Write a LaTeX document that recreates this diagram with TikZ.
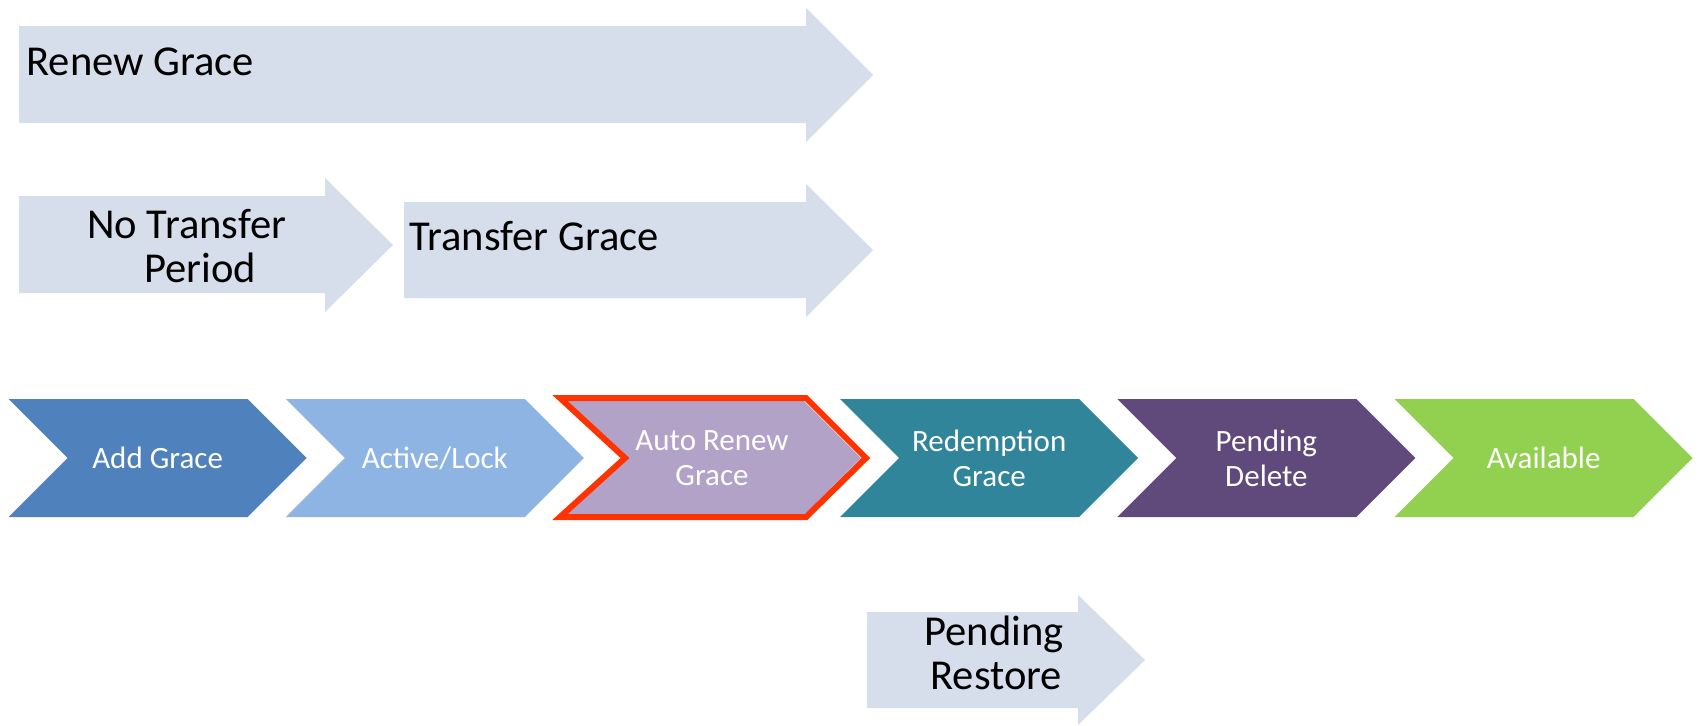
\documentclass[tikz,border=0pt]{standalone}
\usepackage{fontspec}
\setmainfont{Carlito}
\usepackage{tikz}
\usetikzlibrary{calc}
\definecolor{barfill}{RGB}{214,222,236}
\definecolor{addc}{RGB}{79,129,189}
\definecolor{activec}{RGB}{142,180,227}
\definecolor{autoc}{RGB}{178,162,199}
\definecolor{redempc}{RGB}{49,133,155}
\definecolor{pendc}{RGB}{96,74,123}
\definecolor{availc}{RGB}{146,208,80}
\definecolor{markc}{RGB}{255,51,0}

\begin{document}
\begin{tikzpicture}[x=0.5pt, y=-0.5pt,
  bar/.style={fill=barfill},
  big/.style={font=\fontsize{21.3}{22}\selectfont, inner sep=0pt, align=left, anchor=base west},
  lbl/.style={text=white, font=\fontsize{15.5}{17.5}\selectfont, align=center, inner sep=0pt}]
\useasboundingbox (0,0) rectangle (1701,725);

\fill[bar] (19,26) -- (806,26) -- (806,8) -- (873,75) -- (806,142) -- (806,123) -- (19,123) -- cycle;
\fill[bar] (19,196) -- (325,196) -- (325,178) -- (393,245) -- (325,312) -- (325,293) -- (19,293) -- cycle;
\fill[bar] (404,202) -- (806,202) -- (806,184) -- (873,250) -- (806,317) -- (806,298) -- (404,298) -- cycle;
\fill[bar] (867,612) -- (1078,612) -- (1078,595) -- (1145,660) -- (1078,725) -- (1078,708) -- (867,708) -- cycle;

\node[big] (renew) at (26,75) {Renew Grace};
\node[big] (notrans) at (87,282) {No Transfer\\\hspace*{28.5pt}Period};
\node[big] (trans) at (409,250) {Transfer Grace};
\node[big] (restore) at (924,689) {Pending\\\hspace*{3pt}Restore};

\fill[addc] (8.6,399) -- ++(239,0) -- ++(59,59) -- ++(-59,59) -- ++(-239,0) -- ++(59,-59) -- cycle;
\fill[activec] (285.8,399) -- ++(239,0) -- ++(59,59) -- ++(-59,59) -- ++(-239,0) -- ++(59,-59) -- cycle;
\fill[autoc] (563,399) -- ++(239,0) -- ++(59,59) -- ++(-59,59) -- ++(-239,0) -- ++(59,-59) -- cycle;
\fill[redempc] (840.2,399) -- ++(239,0) -- ++(59,59) -- ++(-59,59) -- ++(-239,0) -- ++(59,-59) -- cycle;
\fill[pendc] (1117.4,399) -- ++(239,0) -- ++(59,59) -- ++(-59,59) -- ++(-239,0) -- ++(59,-59) -- cycle;
\fill[availc] (1394.6,399) -- ++(239,0) -- ++(59,59) -- ++(-59,59) -- ++(-239,0) -- ++(59,-59) -- cycle;
\draw[markc, line width=3pt] (560,398) -- (806,398) -- (866,458) -- (806,517) -- (560,517) -- (625,458) -- cycle;

\node[lbl] (add) at (157.6,458) {Add Grace};
\node[lbl] (active) at (434.8,458) {Active/Lock};
\node[lbl] (auto) at (712,458) {Auto Renew\\Grace};
\node[lbl] (redemp) at (989.2,458) {Redemption\\Grace};
\node[lbl] (pdelete) at (1266.4,458) {Pending\\Delete};
\node[lbl] (avail) at (1543.6,458) {Available};

\end{tikzpicture}
\end{document}
